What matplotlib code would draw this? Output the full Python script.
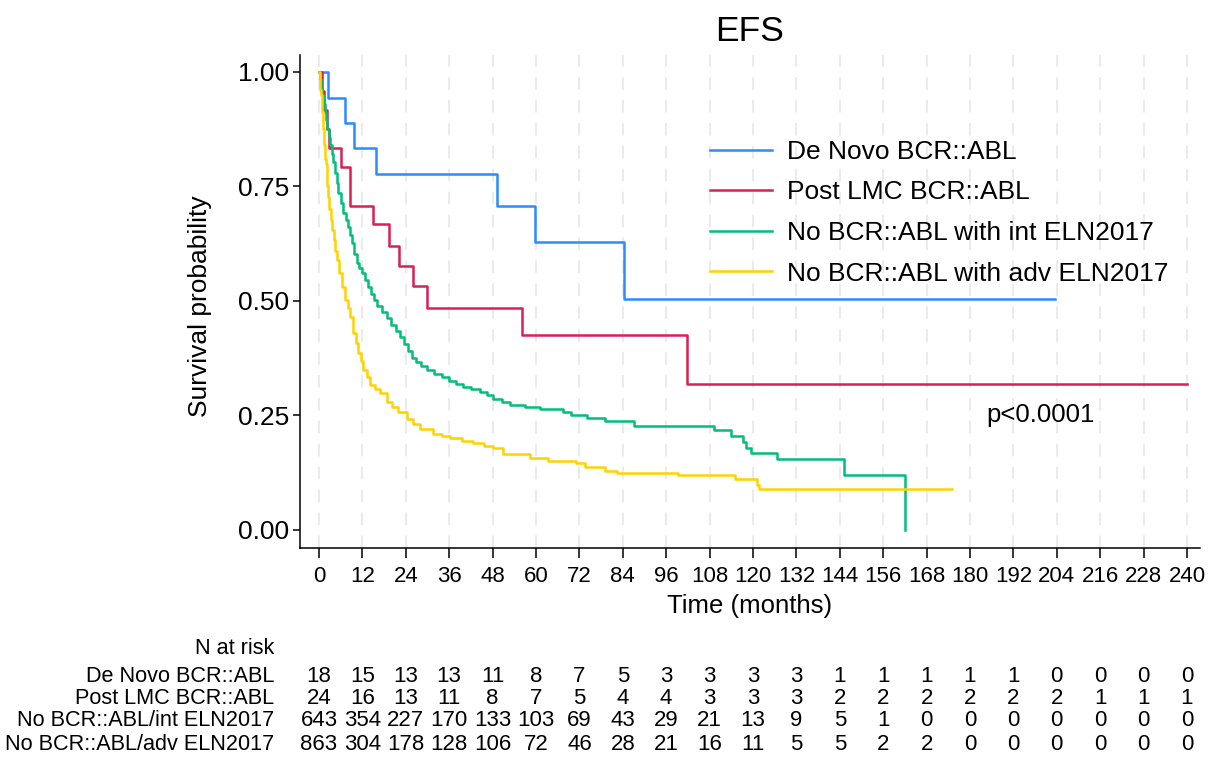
import matplotlib
matplotlib.use("Agg")
import matplotlib.pyplot as plt
import numpy as np

# Kaplan-Meier steps (months, survival)
denovo_t = [0, 2.5, 7.2, 9.7, 15.8, 49.2, 59.7, 84.3, 203.5]
denovo_s = [1.0, 0.944, 0.889, 0.833, 0.778, 0.707, 0.629, 0.504, 0.504]

postlmc_t = [0, 0.8, 1.5, 2.2, 2.8, 6.1, 8.6, 15.0, 19.4, 22.2, 25.9, 29.9, 56.2, 101.8, 240]
postlmc_s = [1.0, 0.958, 0.917, 0.875, 0.833, 0.792, 0.708, 0.667, 0.620, 0.576, 0.533, 0.485,
             0.426, 0.319, 0.319]

int_t = [0, 0.3, 0.6, 0.9, 1.3, 1.66, 2.0, 2.3, 2.7, 3.0, 3.5, 3.96, 4.4, 4.9, 5.3, 6.0, 6.7,
         7.4, 8.1, 8.6, 9.0, 9.7, 10.4, 11.1, 11.8, 12.7, 13.6, 14.4, 15.2, 16.1, 17.4, 18.7,
         20.0, 21.2, 22.4, 23.5, 24.5, 25.6, 26.8, 28.3, 29.8, 31.8, 33.9, 36.0, 38.0, 39.9,
         42.0, 44.5, 46.5, 48.2, 50.5, 52.8, 57.0, 61.1, 67.5, 69.8, 74.0, 79.1, 87.2, 109.2,
         113.9, 117.3, 118.0, 119.4, 126.6, 145.2, 162.0]
int_s = [1.0, 0.985, 0.965, 0.949, 0.93, 0.913, 0.895, 0.876, 0.858, 0.84, 0.82, 0.803, 0.779,
         0.757, 0.735, 0.713, 0.691, 0.676, 0.662, 0.645, 0.626, 0.603, 0.582, 0.571, 0.56,
         0.545, 0.531, 0.516, 0.502, 0.488, 0.475, 0.462, 0.447, 0.434, 0.422, 0.405, 0.39,
         0.375, 0.366, 0.357, 0.349, 0.341, 0.335, 0.325, 0.318, 0.313, 0.307, 0.302, 0.294,
         0.287, 0.28, 0.273, 0.269, 0.265, 0.258, 0.25, 0.245, 0.237, 0.228, 0.218, 0.206,
         0.193, 0.18, 0.169, 0.155, 0.12, 0.0]

adv_t = [0, 0.2, 0.4, 0.55, 0.75, 0.9, 1.05, 1.2, 1.35, 1.5, 1.66, 1.9, 2.1, 2.35, 2.6, 2.9,
         3.2, 3.5, 4.1, 4.5, 4.9, 5.6, 6.3, 7.2, 7.9, 8.6, 9.5, 10.2, 10.9, 11.6, 12.3, 13.2,
         14.1, 15.5, 16.9, 18.7, 20.3, 21.9, 24.2, 26.0, 27.9, 31.6, 34.0, 36.2, 39.5, 42.7,
         45.5, 48.2, 51.0, 58.3, 63.4, 71.2, 73.5, 79.1, 82.3, 99.3, 114.9, 121.0, 121.6, 175.1]
adv_s = [1.0, 0.98, 0.96, 0.95, 0.93, 0.913, 0.895, 0.876, 0.858, 0.84, 0.81, 0.80, 0.779,
         0.752, 0.728, 0.70, 0.677, 0.655, 0.633, 0.61, 0.59, 0.56, 0.531, 0.502, 0.484, 0.466,
         0.43, 0.408, 0.386, 0.368, 0.349, 0.333, 0.317, 0.307, 0.298, 0.28, 0.269, 0.258,
         0.242, 0.231, 0.22, 0.21, 0.205, 0.2, 0.195, 0.189, 0.184, 0.178, 0.166, 0.157, 0.151,
         0.146, 0.138, 0.129, 0.125, 0.12, 0.112, 0.098, 0.09, 0.09]

legend_labels = ["De Novo BCR::ABL", "Post LMC BCR::ABL",
                 "No BCR::ABL with int ELN2017", "No BCR::ABL with adv ELN2017"]
colors = ["#2B8CFF", "#DB1F55", "#00BF7A", "#FFD300"]

# risk table
risk_times = list(range(0, 241, 12))
risk_labels = ["De Novo BCR::ABL", "Post LMC BCR::ABL",
               "No BCR::ABL/int ELN2017", "No BCR::ABL/adv ELN2017"]
risk_denovo = [18, 15, 13, 13, 11, 8, 7, 5, 3, 3, 3, 3, 1, 1, 1, 1, 1, 0, 0, 0, 0]
risk_postlmc = [24, 16, 13, 11, 8, 7, 5, 4, 4, 3, 3, 3, 2, 2, 2, 2, 2, 2, 1, 1, 1]
risk_int = [643, 354, 227, 170, 133, 103, 69, 43, 29, 21, 13, 9, 5, 1, 0, 0, 0, 0, 0, 0, 0]
risk_adv = [863, 304, 178, 128, 106, 72, 46, 28, 21, 16, 11, 5, 5, 2, 2, 0, 0, 0, 0, 0, 0]

plt.rcParams['font.family'] = ['Liberation Sans', 'DejaVu Sans']

fig = plt.figure(figsize=(12.08, 7.64), dpi=100)
ax = fig.add_axes([300 / 1208, 1 - 548 / 764, 900 / 1208, 493 / 764])

curves = [(denovo_t, denovo_s), (postlmc_t, postlmc_s), (int_t, int_s), (adv_t, adv_s)]
for (t, s), c, lab in zip(curves, colors, legend_labels):
    ax.step(t, s, where='post', color=c, lw=1.8, label=lab)

ax.set_xlim(-5.25, 243.6)
ax.set_ylim(-0.0393, 1.037)
ax.set_xticks(risk_times)
ax.set_yticks([0, 0.25, 0.5, 0.75, 1.0])
ax.set_yticklabels(["0.00", "0.25", "0.50", "0.75", "1.00"])
ax.xaxis.grid(True, color='#EBEBEB', lw=1.5, linestyle=(0, (6, 5)))
ax.set_axisbelow(True)

for sp in ['top', 'right']:
    ax.spines[sp].set_visible(False)
for sp in ['left', 'bottom']:
    ax.spines[sp].set_linewidth(1.1)

ax.tick_params(axis='y', labelsize=19, length=5, width=1.1, pad=3)
ax.tick_params(axis='x', labelsize=16, length=7, width=1.1, pad=6)

ax.set_ylabel("Survival probability", fontsize=19)
ax.yaxis.set_label_coords(-0.098, 0.49)
ax.set_xlabel("Time (months)", fontsize=18.5, labelpad=5)
ax.set_title("EFS", fontsize=25.5, pad=10)

ax.legend(loc='upper left', bbox_to_anchor=(0.4556, 0.828), frameon=False,
          fontsize=19, handlelength=2.35, handletextpad=0.57, labelspacing=0.63,
          borderaxespad=0, borderpad=0)

ax.text(184.5, 0.251, "p<0.0001", fontsize=18.5, ha='left', va='center')

# N at risk table below the axis
fig.text(274 / 1208, 1 - 648 / 764, "N at risk", ha='right', va='center', fontsize=15.6)
rows = [risk_denovo, risk_postlmc, risk_int, risk_adv]
row_y = [676, 698, 721, 744]
for lab, vals, yp in zip(risk_labels, rows, row_y):
    yf = 1 - yp / 764
    fig.text(274 / 1208, yf, lab, ha='right', va='center', fontsize=15.6)
    for tm, v in zip(risk_times, vals):
        xf = fig.transFigure.inverted().transform(ax.transData.transform((tm, 0)))[0]
        fig.text(xf, yf, str(v), ha='center', va='center', fontsize=16)

fig.savefig("out.png", dpi=100)
